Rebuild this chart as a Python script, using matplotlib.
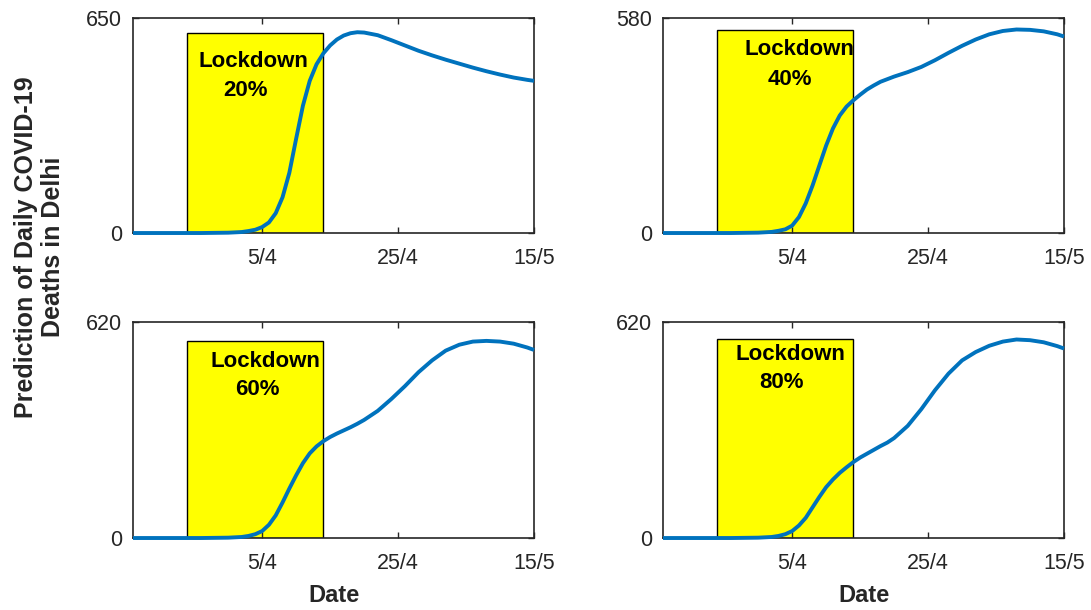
import matplotlib
matplotlib.use("Agg")
import matplotlib.pyplot as plt
from matplotlib.patches import Rectangle

# days counted from 17/3
days = [0, 5, 10, 14, 16, 17, 18, 19, 20, 21, 22, 23, 24, 25, 26, 27, 28, 29, 30,
        31, 32, 33, 34, 36, 38, 40, 42, 44, 46, 48, 50, 52, 54, 56, 58, 59]

deaths_20 = [0, 0, 0, 1, 3, 6, 10, 18, 32, 60, 108, 182, 285, 385, 460, 510, 543, 567, 585,
             597, 604, 607, 606, 598, 583, 567, 551, 537, 524, 512, 500, 489, 479, 470, 463, 460]
deaths_40 = [0, 0, 0, 1, 3, 6, 10, 20, 43, 80, 128, 182, 236, 282, 317, 341, 358, 373, 387,
             398, 408, 415, 422, 434, 448, 466, 486, 505, 522, 536, 545, 549, 548, 544, 536, 530]
deaths_60 = [0, 0, 0, 1, 3, 6, 11, 20, 38, 65, 102, 142, 180, 215, 243, 263, 278, 290, 300,
             309, 318, 328, 339, 365, 399, 436, 476, 510, 538, 555, 564, 566, 564, 558, 547, 540]
deaths_80 = [0, 0, 0, 1, 3, 6, 11, 20, 36, 58, 88, 118, 146, 168, 187, 203, 218, 231, 242,
             253, 264, 274, 287, 322, 370, 424, 472, 510, 534, 552, 564, 570, 568, 562, 551, 544]

series = [deaths_20, deaths_40, deaths_60, deaths_80]
levels = ["20%", "40%", "60%", "80%"]
ymax = [650, 580, 620, 620]
box_top = [605, 547, 565, 570]
lockdown = (8, 28)

tick_days = [19, 39, 59]
tick_labels = ["5/4", "25/4", "15/5"]

# text positions (day, value) for "Lockdown" and the percentage
txt_pos = [((17.75, 518), (16.5, 430)),
           ((20.1, 494), (18.7, 415)),
           ((19.5, 508), (18.3, 427)),
           ((18.7, 528), (17.5, 446))]

plt.rcParams['font.family'] = ['Liberation Sans', 'DejaVu Sans']
plt.rcParams['xtick.direction'] = 'in'
plt.rcParams['ytick.direction'] = 'in'

fig = plt.figure(figsize=(10.91, 6.10), dpi=100)
rects = [[0.1219, 0.618, 0.3676, 0.3525],
         [0.6077, 0.618, 0.3676, 0.3525],
         [0.1219, 0.118, 0.3676, 0.354],
         [0.6077, 0.118, 0.3676, 0.354]]

gray = '#262626'
for i in range(4):
    ax = fig.add_axes(rects[i])
    ax.add_patch(Rectangle((lockdown[0], 0), lockdown[1] - lockdown[0], box_top[i],
                           facecolor='#FFFF00', edgecolor='black', lw=1.0, zorder=1))
    ax.plot(days, series[i], color='#0072BD', lw=2.8, zorder=3, clip_on=False,
            solid_capstyle='butt', solid_joinstyle='round')
    (lx, ly), (px, py) = txt_pos[i]
    ax.text(lx, ly, "Lockdown", fontsize=16, fontweight='bold', ha='center', va='center', zorder=4)
    ax.text(px, py, levels[i], fontsize=16, fontweight='bold', ha='center', va='center', zorder=4)
    ax.set_xlim(0, 59)
    ax.set_ylim(0, ymax[i])
    ax.set_xticks(tick_days)
    ax.set_xticklabels(tick_labels)
    ax.set_yticks([0, ymax[i]])
    ax.tick_params(axis='both', labelsize=15.5, colors=gray, length=4, width=1,
                   top=True, right=True)
    ax.tick_params(axis='x', pad=11)
    ax.tick_params(axis='y', pad=8)
    for s in ax.spines.values():
        s.set_color(gray)
        s.set_linewidth(1.2)
    if i >= 2:
        ax.set_xlabel("Date", fontsize=17, fontweight='bold', color=gray, labelpad=7)

fig.text(0.036, 0.595, "Prediction of Daily COVID-19\nDeaths in Delhi", rotation=90,
         fontsize=18, fontweight='bold', color=gray, ha='center', va='center',
         multialignment='center', linespacing=1.15)

fig.savefig("out.png", dpi=100)
